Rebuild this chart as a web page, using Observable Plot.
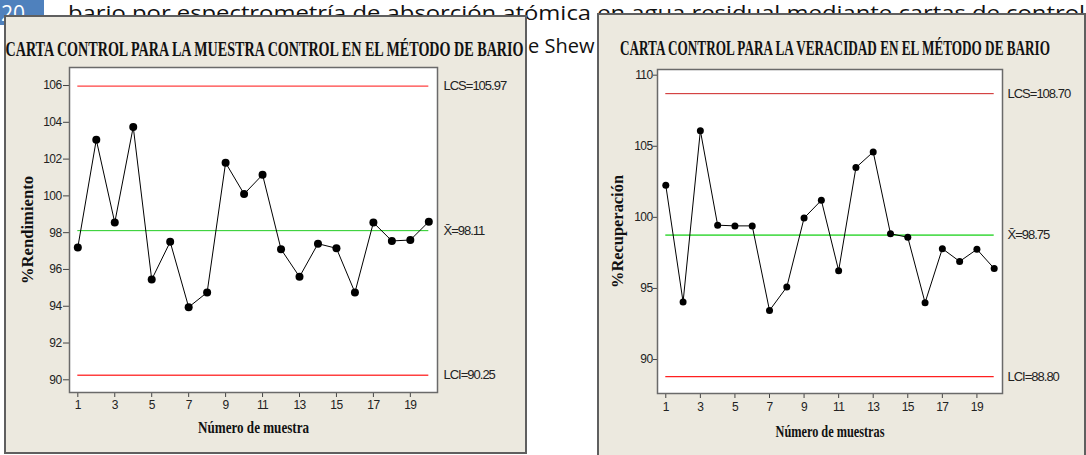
<!DOCTYPE html>
<html><head><meta charset="utf-8">
<script src="https://cdn.jsdelivr.net/npm/d3@7"></script>
<script src="https://cdn.jsdelivr.net/npm/@observablehq/plot@0.6"></script>
<style>
html,body{margin:0;padding:0;background:#fff;}
body{position:relative;width:1086px;height:455px;overflow:hidden;}
.doc{position:absolute;left:0;top:0;}
.panel{position:absolute;background:#ECE9DF;border:2px solid #5f5f5f;box-sizing:border-box;}
.chart{position:absolute;}
</style></head><body>
<svg class="doc" width="1086" height="80">
  <rect x="0" y="-5" width="44" height="30" fill="#4F81BD"/>
  <text x="1" y="21" fill="#fff" font-family="Open Sans" font-size="21">20</text>
  <text x="68" y="20" font-family="Open Sans" font-size="20" fill="#111" textLength="1017" lengthAdjust="spacingAndGlyphs">bario por espectrometría de absorción atómica en agua residual mediante cartas de control</text>
  <text x="528" y="53" font-family="Open Sans" font-size="20" fill="#111">e Shew</text>
</svg>
<div class="panel" style="left:4px;top:15px;width:523px;height:439px"></div>
<div class="panel" style="left:597px;top:13px;width:489px;height:450px"></div>
<div id="c1" class="chart" style="left:4px;top:15px"></div>
<div id="c2" class="chart" style="left:597px;top:13px"></div>
<script>
// ---- data ----
const samples = [1,2,3,4,5,6,7,8,9,10,11,12,13,14,15,16,17,18,19,20];
const rendimiento = [97.2,103.05,98.55,103.75,95.45,97.5,93.95,94.75,101.8,100.1,101.15,97.1,95.6,97.4,97.15,94.75,98.55,97.55,97.6,98.6];
const recuperacion = [102.25,94.05,106.1,99.45,99.4,99.4,93.45,95.1,99.95,101.2,96.25,103.5,104.6,98.85,98.6,94.0,97.8,96.9,97.75,96.4];
const limitsLeft = [105.97, 98.11, 90.25];
const limitsRight = [108.70, 98.75, 88.80];
const limitLabelsLeft = ["LCS=105.97", "X\u0304=98.11", "LCI=90.25"];
const limitLabelsRight = ["LCS=108.70", "X\u0304=98.75", "LCI=88.80"];
const xTicks = [1,3,5,7,9,11,13,15,17,19];
const yTicksLeft = [90,92,94,96,98,100,102,104,106];
const yTicksRight = [90,95,100,105,110];
const titles = ["CARTA CONTROL PARA LA MUESTRA CONTROL EN EL MÉTODO DE BARIO", "CARTA CONTROL PARA LA VERACIDAD EN EL MÉTODO DE BARIO"];
const yLabels = ["%Rendimiento", "%Recuperación"];
const xLabels = ["Número de muestra", "Número de muestras"];

function fit(svg, str, len) {
  svg.querySelectorAll("text").forEach(t => {
    if (t.textContent === str) {
      t.setAttribute("textLength", len);
      t.setAttribute("lengthAdjust", "spacingAndGlyphs");
      t.style.letterSpacing = "0px";
    }
  });
}

function chart(cfg) {
  const serif = {fontFamily: "Liberation Serif, Times New Roman, serif", fontWeight: "bold", fill: "#111"};
  const svg = Plot.plot({
    width: cfg.width, height: cfg.height,
    marginLeft: cfg.m[0], marginRight: cfg.m[1], marginTop: cfg.m[2], marginBottom: cfg.m[3],
    x: {domain: cfg.xDomain, axis: null},
    y: {domain: cfg.yDomain, axis: null},
    style: {background: "transparent", fontFamily: "Liberation Sans, Arial, sans-serif", fontSize: "12px", letterSpacing: "-0.6px", color: "#222", overflow: "visible"},
    marks: [
      Plot.frame({fill: "white", stroke: null}),
      Plot.axisY(cfg.yTicks, {anchor: "left", tickSize: cfg.yTickSize, tickPadding: cfg.yTickPad, label: null, stroke: "#444", fontSize: 12}),
      Plot.axisX(xTicks, {anchor: "bottom", tickSize: 5, tickPadding: cfg.xTickPad, label: null, stroke: "#444", fontSize: 12}),
      Plot.ruleY([cfg.limits[0]], {x1: samples[0], x2: samples[samples.length - 1], stroke: cfg.lcsColor, strokeWidth: cfg.lcsWidth}),
      Plot.ruleY([cfg.limits[1]], {x1: samples[0], x2: samples[samples.length - 1], stroke: cfg.meanColor, strokeWidth: cfg.meanWidth}),
      Plot.ruleY([cfg.limits[2]], {x1: samples[0], x2: samples[samples.length - 1], stroke: cfg.lciColor, strokeWidth: cfg.lciWidth}),
      Plot.line(cfg.values, {x: samples, y: cfg.values, stroke: "#000", strokeWidth: 1}),
      Plot.dot(cfg.values, {x: samples, y: cfg.values, r: cfg.r, fill: "#000", stroke: null}),
      Plot.frame({stroke: "#6a6a6a", strokeWidth: 1.5}),
      Plot.text(cfg.labels, {y: cfg.limits, text: cfg.labels, frameAnchor: "right", textAnchor: "start", dx: cfg.labelDx, fontSize: 13, fill: "#222"}),
      Plot.text([cfg.title], {frameAnchor: "top", textAnchor: "middle", dx: cfg.titleDx, dy: cfg.titleDy, lineAnchor: "bottom", fontSize: 21, ...serif}),
      Plot.text([cfg.ylabel], {frameAnchor: "left", textAnchor: "middle", dx: cfg.ylabDx, rotate: -90, lineAnchor: "middle", fontSize: 16, ...serif}),
      Plot.text([cfg.xlabel], {frameAnchor: "bottom", textAnchor: "middle", dy: cfg.xlabDy, lineAnchor: "middle", fontSize: 16, ...serif})
    ]
  });
  svg.querySelectorAll("g[aria-label='text'] text").forEach(t => {
    if (cfg.labels.includes(t.textContent)) t.style.letterSpacing = "-1px";
  });
  fit(svg, cfg.title, cfg.titleLen);
  fit(svg, cfg.ylabel, cfg.ylabLen);
  fit(svg, cfg.xlabel, cfg.xlabLen);
  return svg;
}

document.getElementById("c1").append(chart({
  width: 522, height: 438, m: [65, 89, 52, 61],
  xDomain: [0.55, 20.47], yDomain: [89.31, 106.98],
  yTicks: yTicksLeft, yTickSize: 6, yTickPad: 2, xTickPad: 3,
  limits: limitsLeft, labels: limitLabelsLeft,
  lcsColor: "#ff4040", lcsWidth: 1.4, meanColor: "#22cc22", meanWidth: 1, lciColor: "#ff4040", lciWidth: 1.4,
  values: rendimiento, r: 4, labelDx: 6,
  title: titles[0], titleDx: 11, titleDy: -12, titleLen: 518,
  ylabel: yLabels[0], ylabDx: -42, ylabLen: 108,
  xlabel: xLabels[0], xlabDy: 35, xlabLen: 111
}));

document.getElementById("c2").append(chart({
  width: 488, height: 442, m: [60, 83, 56, 62],
  xDomain: [0.52, 20.48], yDomain: [87.61, 110.40],
  yTicks: yTicksRight, yTickSize: 4, yTickPad: 1, xTickPad: 4,
  limits: limitsRight, labels: limitLabelsRight,
  lcsColor: "#cc2020", lcsWidth: 1, meanColor: "#55dd55", meanWidth: 1.8, lciColor: "#ff2020", lciWidth: 1.3,
  values: recuperacion, r: 3.5, labelDx: 5,
  title: titles[1], titleDx: 5, titleDy: -15, titleLen: 430,
  ylabel: yLabels[1], ylabDx: -40, ylabLen: 113,
  xlabel: xLabels[1], xlabDy: 38, xlabLen: 109
}));
</script>
</body></html>
